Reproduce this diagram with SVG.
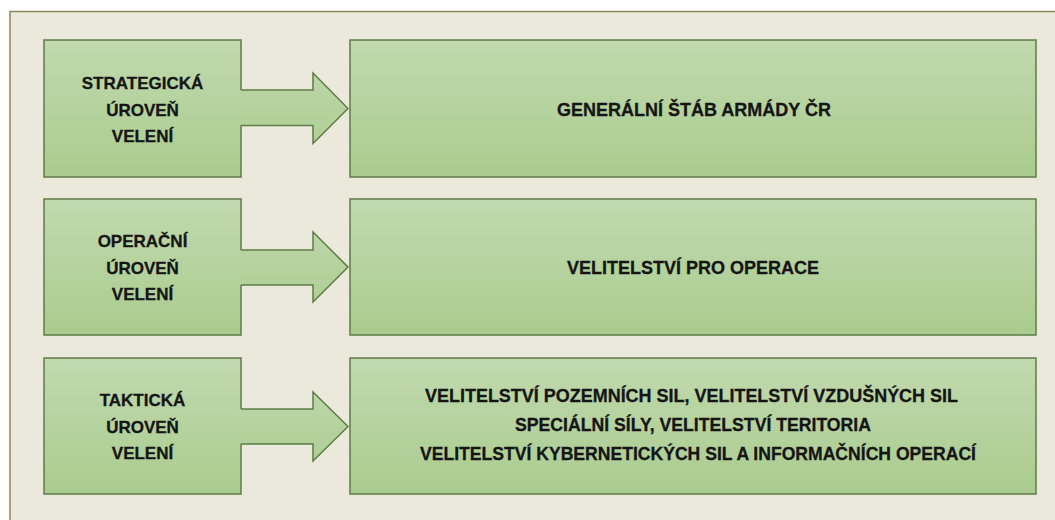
<svg xmlns="http://www.w3.org/2000/svg" width="1055" height="520" viewBox="0 0 1055 520">
  <defs>
    <linearGradient id="gBox" x1="0" y1="0" x2="0" y2="1">
      <stop offset="0" stop-color="#c1d9ae"/>
      <stop offset="1" stop-color="#aacc8f"/>
    </linearGradient>
    <linearGradient id="gArrow" x1="0" y1="0" x2="0" y2="1">
      <stop offset="0" stop-color="#bcd6a7"/>
      <stop offset="1" stop-color="#b0cf96"/>
    </linearGradient>
    <style>
      .box { fill: url(#gBox); stroke: #5e7c45; stroke-width: 1.5; }
      .afill { fill: url(#gArrow); stroke: none; }
      .aline { fill: none; stroke: #5e7c45; stroke-width: 1.5; stroke-linejoin: miter; }
      .t { font-family: "Liberation Sans", Arial, sans-serif; font-weight: bold; fill: #151515; stroke: #151515; stroke-width: 0.3; text-anchor: middle; }
      .tl { font-size: 17px; }
      .tr { font-size: 18px; }
    </style>
  </defs>

  <rect x="0" y="0" width="1055" height="520" fill="#ffffff"/>
  <rect id="panel" x="10" y="11.5" width="1060" height="520" fill="#ebe8dc" stroke="#8a865a" stroke-width="1.5"/>

  <g id="level-strategic">
    <rect class="box" x="44" y="40" width="197" height="137"/>
    <text class="t tl" x="142.5" y="89">STRATEGICKÁ</text>
    <text class="t tl" x="142.5" y="115.5">ÚROVEŇ</text>
    <text class="t tl" x="142.5" y="142">VELENÍ</text>
  </g>
  <g id="unit-strategic">
    <rect class="box" x="350" y="40" width="686" height="137"/>
    <text class="t tr" x="694" y="116" textLength="274" lengthAdjust="spacingAndGlyphs">GENERÁLNÍ ŠTÁB ARMÁDY ČR</text>
  </g>

  <g id="level-operational">
    <rect class="box" x="44" y="199" width="197" height="136"/>
    <text class="t tl" x="142.5" y="247">OPERAČNÍ</text>
    <text class="t tl" x="142.5" y="273.5">ÚROVEŇ</text>
    <text class="t tl" x="142.5" y="300">VELENÍ</text>
  </g>
  <g id="unit-operational">
    <rect class="box" x="350" y="199" width="686" height="136"/>
    <text class="t tr" x="693" y="274">VELITELSTVÍ PRO OPERACE</text>
  </g>

  <g id="level-tactical">
    <rect class="box" x="44" y="358" width="197" height="136"/>
    <text class="t tl" x="142.5" y="406">TAKTICKÁ</text>
    <text class="t tl" x="142.5" y="432.5">ÚROVEŇ</text>
    <text class="t tl" x="142.5" y="459">VELENÍ</text>
  </g>
  <g id="unit-tactical">
    <rect class="box" x="350" y="358" width="686" height="136"/>
    <text class="t tr" x="691.5" y="402" textLength="533" lengthAdjust="spacingAndGlyphs">VELITELSTVÍ POZEMNÍCH SIL, VELITELSTVÍ VZDUŠNÝCH SIL</text>
    <text class="t tr" x="693" y="431" textLength="356" lengthAdjust="spacingAndGlyphs">SPECIÁLNÍ SÍLY, VELITELSTVÍ TERITORIA</text>
    <text class="t tr" x="698" y="460" textLength="556" lengthAdjust="spacingAndGlyphs">VELITELSTVÍ KYBERNETICKÝCH SIL A INFORMAČNÍCH OPERACÍ</text>
  </g>

  <g id="connectors">
    <path class="afill" d="M239,90 H313 V73 L348,108.5 L313,143.5 V125.5 H239 Z"/>
    <path class="aline" d="M241,90 H313 V73 L348,108.5 L313,143.5 V125.5 H241"/>
    <path class="afill" d="M239,250 H313 V232 L348,267 L313,302 V285 H239 Z"/>
    <path class="aline" d="M241,250 H313 V232 L348,267 L313,302 V285 H241"/>
    <path class="afill" d="M239,409 H313 V392 L348,426.5 L313,461 V444 H239 Z"/>
    <path class="aline" d="M241,409 H313 V392 L348,426.5 L313,461 V444 H241"/>
  </g>
</svg>
